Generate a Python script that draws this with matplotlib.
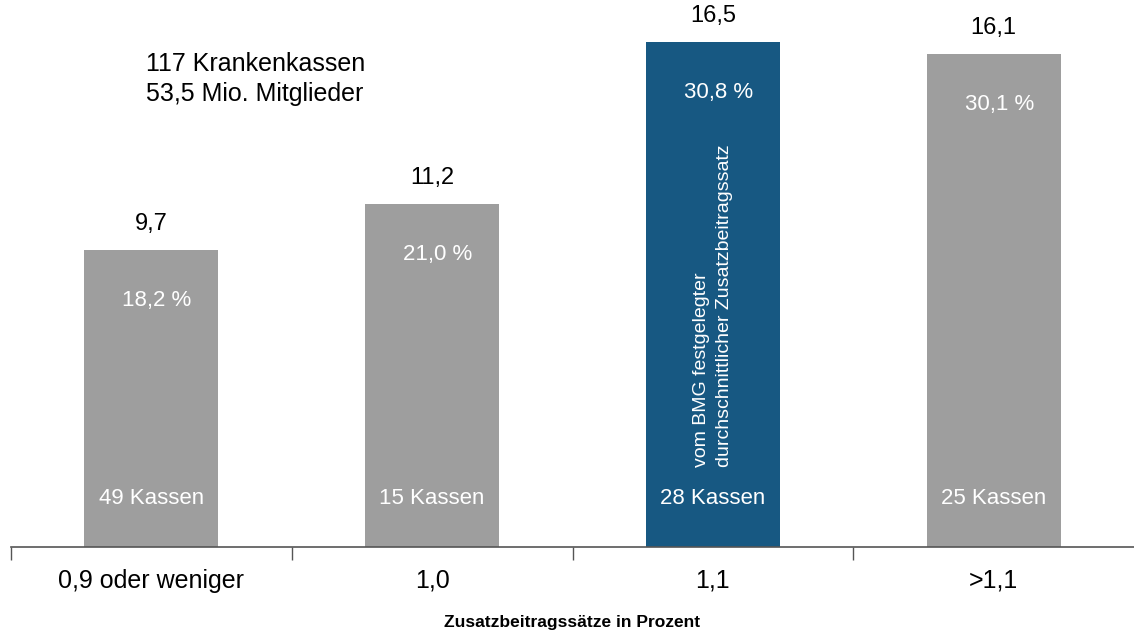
import matplotlib
matplotlib.use("Agg")
import matplotlib.pyplot as plt

plt.rcParams["font.family"] = ["Liberation Sans", "DejaVu Sans"]

categories = ["0,9 oder weniger", "1,0", "1,1", ">1,1"]
members = [9.7, 11.2, 16.5, 16.1]          # Mio. Mitglieder
member_labels = ["9,7", "11,2", "16,5", "16,1"]
shares = ["18,2 %", "21,0 %", "30,8 %", "30,1 %"]
kassen = ["49 Kassen", "15 Kassen", "28 Kassen", "25 Kassen"]
colors = ["#9e9e9e", "#9e9e9e", "#175882", "#9e9e9e"]

fig = plt.figure(figsize=(11.34, 6.38), dpi=100)
ax = fig.add_axes([11 / 1134, 1 - 547 / 638, 1 - 11 / 1134, 547 / 638])

x = range(len(categories))
ax.bar(x, members, width=0.478, color=colors, zorder=2)

ax.set_xlim(-0.5, 3.5)
ax.set_ylim(0, 17.88)

# labels over / inside the bars
for i, v in enumerate(members):
    ax.text(i, v + 0.5, member_labels[i], ha="center", va="bottom",
            fontsize=17, color="black")
    ax.text(i + 0.02, v - 1.65, shares[i], ha="center", va="center",
            fontsize=16, color="white")
    ax.text(i, 1.6, kassen[i], ha="center", va="center",
            fontsize=16, color="white")

ax.text(2.0, 2.6, "vom BMG festgelegter\ndurchschnittlicher Zusatzbeitragssatz",
        rotation=90, ha="center", va="bottom", multialignment="left",
        fontsize=14, color="white", linespacing=1.45)

ax.text(-0.02, 15.3, "117 Krankenkassen\n53,5 Mio. Mitglieder", ha="left", va="center",
        fontsize=18, linespacing=1.3)

# axis decoration
for s in ["top", "right", "left"]:
    ax.spines[s].set_visible(False)
ax.spines["bottom"].set_color("#555555")
ax.spines["bottom"].set_linewidth(1.2)
ax.set_yticks([])
ax.set_xticks([-0.5, 0.5, 1.5, 2.5])
ax.set_xticklabels([])
ax.tick_params(axis="x", direction="out", length=9, width=1.0, color="#555555")
for i, c in enumerate(categories):
    ax.text(i, -1.1, c, ha="center", va="center", fontsize=18,
            transform=ax.transData, clip_on=False)

fig.text(572 / 1134, 1 - 623 / 638, "Zusatzbeitragssätze in Prozent",
         ha="center", va="center", fontsize=12.5, fontweight="bold")

fig.savefig("out.png", dpi=100)
